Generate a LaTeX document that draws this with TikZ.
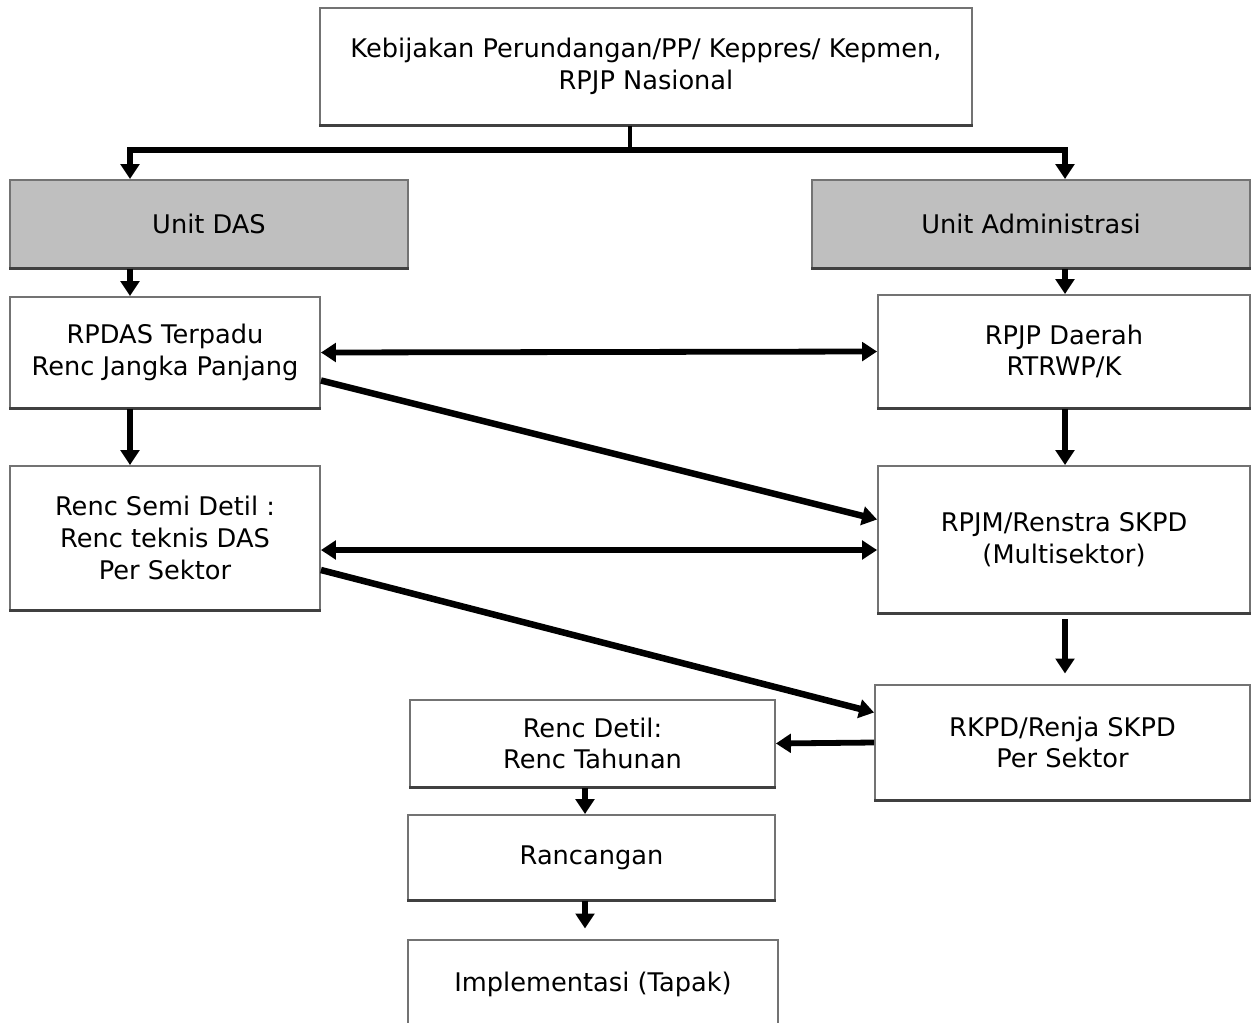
\documentclass[tikz,border=0pt]{standalone}
\usepackage{fontspec}
\setmainfont{DejaVu Sans}
\usetikzlibrary{arrows.meta,calc}

\tikzset{
  kotak/.style={draw=black!55, line width=1.1pt, fill=white, align=center,
    inner sep=2pt, font=\fontsize{14.6}{18}\selectfont},
  unit/.style={kotak, fill=black!25},
  panah/.style={line width=3.3pt, -{Triangle[length=8.5pt,width=10.5pt]}},
  panahdua/.style={line width=3.3pt, {Triangle[length=8.5pt,width=10.5pt]}-{Triangle[length=8.5pt,width=10.5pt]}},
}

\begin{document}
\begin{tikzpicture}[x=0.02cm,y=-0.02cm]
  \useasboundingbox (0,0) rectangle (1252,1022);
  \clip (0,0) rectangle (1252,1022);

  % kotak-kotak
  \node[kotak, minimum width=13.04cm, minimum height=2.34cm] (kebijakan) at (646,66.5)
    {Kebijakan Perundangan/PP/ Keppres/ Kepmen,\\ RPJP Nasional};
  \node[unit, minimum width=7.96cm, minimum height=1.76cm] (unitdas) at (209,224) {Unit DAS};
  \node[unit, minimum width=8.76cm, minimum height=1.76cm] (unitadm) at (1031,224) {Unit Administrasi};
  \node[kotak, minimum width=6.2cm, minimum height=2.22cm] (rpdas) at (165,352.5)
    {RPDAS Terpadu\\ Renc Jangka Panjang};
  \node[kotak, minimum width=7.44cm, minimum height=2.26cm] (rpjp) at (1064,351.5)
    {RPJP Daerah\\ RTRWP/K};
  \node[kotak, minimum width=6.2cm, minimum height=2.88cm] (semidetil) at (165,538)
    {Renc Semi Detil :\\ Renc teknis DAS\\ Per Sektor};
  \node[kotak, minimum width=7.44cm, minimum height=2.94cm] (rpjm) at (1064,539.5)
    {RPJM/Renstra SKPD\\ (Multisektor)};
  \node[kotak, minimum width=7.5cm, minimum height=2.3cm] (rkpd) at (1062.5,742.5)
    {RKPD/Renja SKPD\\ Per Sektor};
  \node[kotak, minimum width=7.3cm, minimum height=1.74cm] (detil) at (592.5,743.5)
    {Renc Detil:\\ Renc Tahunan};
  \node[kotak, minimum width=7.34cm, minimum height=1.7cm] (rancangan) at (591.5,857.5) {Rancangan};
  \node[kotak, minimum width=7.4cm, minimum height=1.76cm] (implementasi) at (593,984)
    {Implementasi (Tapak)};

  % bayangan bawah
  \foreach \n in {kebijakan,unitdas,unitadm,rpdas,rpjp,semidetil,rpjm,rkpd,detil,rancangan}
    \draw[black!75, line width=1.7pt] (\n.south west) -- (\n.south east);

  % titik bantu
  \coordinate (cabang) at (630,150);
  \coordinate (kiri) at (130,0);
  \coordinate (kanan) at (1065,0);
  \coordinate (tengah) at (585,0);

  % panah
  \draw[line width=2.4pt] (kebijakan.south -| cabang) -- (cabang);
  \draw[panah, line width=3.8pt] (cabang) -| (unitdas.north -| kiri);
  \draw[panah, line width=3.8pt] (cabang) -| (unitadm.north -| kanan);
  \draw[panah] (unitdas.south -| kiri) -- (rpdas.north -| kiri);
  \draw[panah] (unitadm.south -| kanan) -- (rpjp.north -| kanan);
  \draw[panahdua] (rpdas.east) -- (rpjp.west);
  \draw[panah, line width=3.7pt] ($(rpdas.east)+(0,28)$) -- ($(rpjm.west)+(0,-20)$);
  \draw[panah] (rpdas.south -| kiri) -- (semidetil.north -| kiri);
  \draw[panah] (rpjp.south -| kanan) -- (rpjm.north -| kanan);
  \draw[panahdua] ($(semidetil.east)+(0,12)$) -- ($(rpjm.west)+(0,10.5)$);
  \draw[panah, line width=3.7pt] ($(semidetil.east)+(0,32)$) -- ($(rkpd.west)+(0,-30)$);
  \draw[panah, shorten <=3pt, shorten >=6pt] (rpjm.south -| kanan) -- (rkpd.north -| kanan);
  \draw[panah] (rkpd.west) -- (detil.east);
  \draw[panah] (detil.south -| tengah) -- (rancangan.north -| tengah);
  \draw[panah, shorten >=6pt] (rancangan.south -| tengah) -- (implementasi.north -| tengah);
\end{tikzpicture}
\end{document}
